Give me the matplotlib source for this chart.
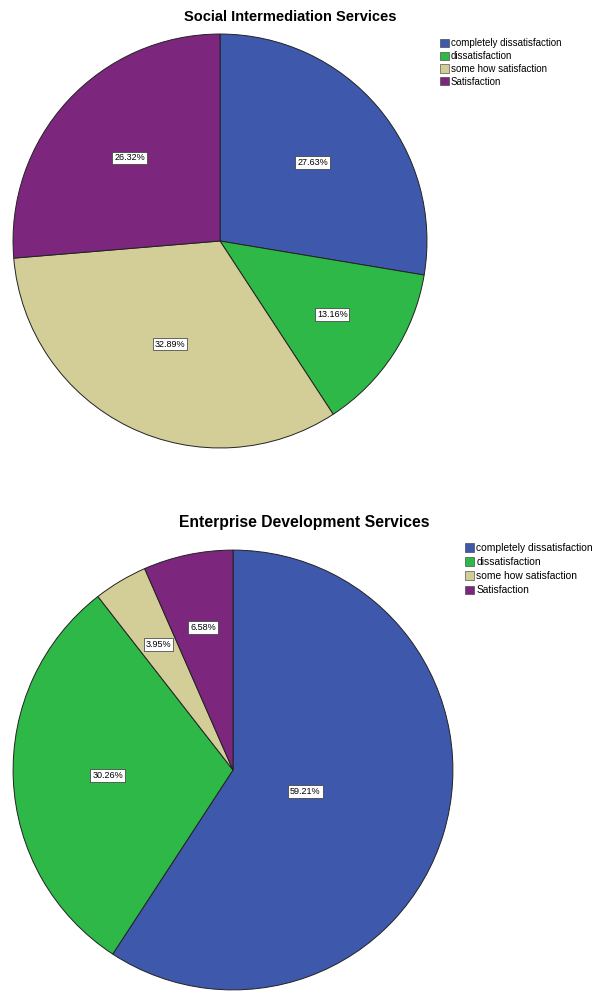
import matplotlib
matplotlib.use("Agg")
import matplotlib.pyplot as plt
from matplotlib.patches import Patch
import numpy as np

categories = ["completely dissatisfaction", "dissatisfaction", "some how satisfaction", "Satisfaction"]
social_values = [27.63, 13.16, 32.89, 26.32]
enterprise_values = [59.21, 30.26, 3.95, 6.58]
titles = ["Social Intermediation Services", "Enterprise Development Services"]
colors = ["#3E58AC", "#2EB848", "#D3CE97", "#7C277D"]

plt.rcParams['font.family'] = ['Liberation Sans', 'DejaVu Sans']

W, H = 602, 1000
fig = plt.figure(figsize=(W / 100, H / 100), dpi=100)
fig.patch.set_facecolor("white")

def px_axes(cx, cy, r):
    return fig.add_axes([(cx - r) / W, (H - cy - r) / H, 2 * r / W, 2 * r / H])

def draw(ax, vals, fs):
    ax.pie(vals, colors=colors, startangle=90, counterclock=False,
           wedgeprops=dict(edgecolor="#222222", linewidth=0.7))
    ax.set_xlim(-1.005, 1.005)
    ax.set_ylim(-1.005, 1.005)
    ax.set_aspect("equal")
    cum = 0
    for v in vals:
        theta = v / 100 * 2 * np.pi
        mid = np.pi / 2 - (cum + v / 2) / 100 * 2 * np.pi
        cum += v
        d = 4 * np.sin(theta / 2) / (3 * theta)
        ax.text(d * np.cos(mid), d * np.sin(mid), f"{v:.2f}%", ha="center", va="center",
                fontsize=fs,
                bbox=dict(boxstyle="square,pad=0.2", facecolor="white",
                          edgecolor="#333333", linewidth=0.5))

ax1 = px_axes(220, 241, 208)
draw(ax1, social_values, 6.5)
ax2 = px_axes(233, 770, 221)
draw(ax2, enterprise_values, 6.5)

fig.text(290 / W, 1 - 17 / H, titles[0], ha="center", va="center", fontsize=10.5, fontweight="bold")
fig.text(304 / W, 1 - 522 / H, titles[1], ha="center", va="center", fontsize=11.3, fontweight="bold")

handles = [Patch(facecolor=c, edgecolor="#333333", linewidth=0.4) for c in colors]
for (lx, ly, fs, sp) in [(440, 38, 7.0, 0.3), (465, 543, 7.4, 0.4)]:
    fig.legend(handles, categories, loc="upper left", bbox_to_anchor=(lx / W, 1 - ly / H),
               frameon=False, fontsize=fs, handlelength=0.9, handleheight=0.9,
               handletextpad=0.2, labelspacing=sp, borderpad=0, borderaxespad=0)

fig.savefig("out.png", dpi=100)
